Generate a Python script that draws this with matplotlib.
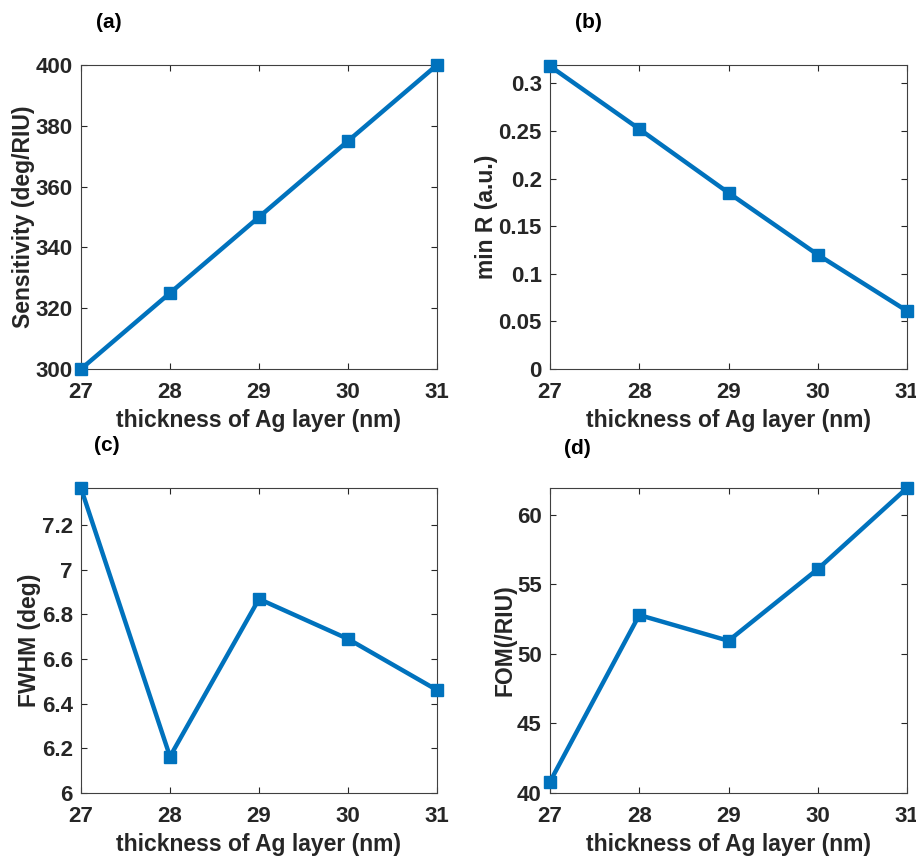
import matplotlib
matplotlib.use('Agg')
import matplotlib.pyplot as plt

plt.rcParams['font.family'] = ['Liberation Sans', 'DejaVu Sans']
plt.rcParams['font.weight'] = 'bold'

thickness = [27, 28, 29, 30, 31]
sensitivity = [300, 325, 350, 375, 400]
min_r = [0.318, 0.252, 0.185, 0.120, 0.061]
fwhm = [7.365, 6.163, 6.869, 6.690, 6.461]
fom = [40.81, 52.79, 50.94, 56.09, 61.92]

xlabel = 'thickness of Ag layer (nm)'
ylabels = ['Sensitivity (deg/RIU)', 'min R (a.u.)', 'FWHM (deg)', 'FOM(/RIU)']
panel_tags = ['(a)', '(b)', '(c)', '(d)']
ylims = [(300, 400), (0, 0.3192), (6, 7.366), (40, 61.92)]
yticks = [[300, 320, 340, 360, 380, 400],
          [0, 0.05, 0.1, 0.15, 0.2, 0.25, 0.3],
          [6, 6.2, 6.4, 6.6, 6.8, 7, 7.2],
          [40, 45, 50, 55, 60]]
ytick_labels = [['300', '320', '340', '360', '380', '400'],
                ['0', '0.05', '0.1', '0.15', '0.2', '0.25', '0.3'],
                ['6', '6.2', '6.4', '6.6', '6.8', '7', '7.2'],
                ['40', '45', '50', '55', '60']]
series = [sensitivity, min_r, fwhm, fom]

W, H = 916, 859
fig = plt.figure(figsize=(W / 100, H / 100), dpi=100)

# axes boxes in pixels: left, top, right, bottom
boxes = [(81, 65, 437, 369), (550, 65, 907, 369),
         (81, 488, 437, 793), (550, 488, 907, 793)]
tag_pos = [(109, 23), (588, 23), (107, 446), (577, 449)]

edge = '#262626'
for i in range(4):
    l, t, r, b = boxes[i]
    ax = fig.add_axes([l / W, 1 - b / H, (r - l) / W, (b - t) / H])
    ax.plot(thickness, series[i], '-s', color='#0072BD', lw=3.2,
            ms=8, clip_on=False, zorder=5)
    ax.set_xlim(27, 31)
    ax.set_ylim(*ylims[i])
    ax.set_xticks(thickness)
    ax.set_yticks(yticks[i])
    ax.set_yticklabels(ytick_labels[i])
    ax.tick_params(direction='in', top=True, right=True, length=4,
                   width=0.8, labelsize=16, colors=edge)
    ax.tick_params(axis='x', pad=9)
    ax.tick_params(axis='y', pad=6)
    for lab in ax.get_xticklabels() + ax.get_yticklabels():
        lab.set_fontweight('bold')
    for s in ax.spines.values():
        s.set_color('#404040')
        s.set_linewidth(0.8)
    ax.set_xlabel(xlabel, fontsize=16.5, fontweight='bold', color=edge, labelpad=5)
    ax.set_ylabel(ylabels[i], fontsize=16.5, fontweight='bold', color=edge, labelpad=0.5)
    fig.text(tag_pos[i][0] / W, 1 - tag_pos[i][1] / H, panel_tags[i],
             fontsize=15, fontweight='bold', ha='center', va='center', color='black')

fig.savefig('out.png', dpi=100, facecolor='white')
